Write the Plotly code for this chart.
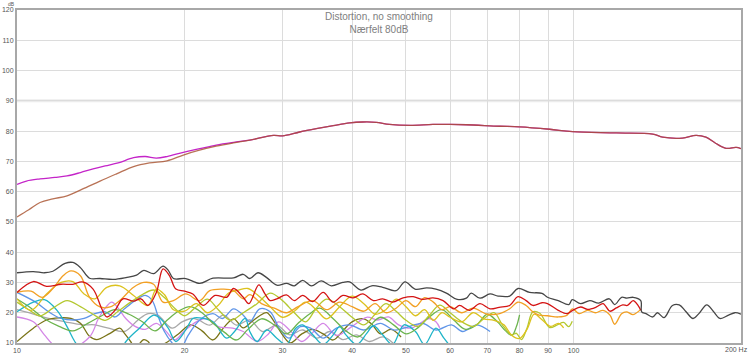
import plotly.graph_objects as go

# ---------------- data ----------------
x_ticks = [10, 20, 30, 40, 50, 60, 70, 80, 90, 100, 200]
x_ticktext = ["10", "20", "30", "40", "50", "60", "70", "80", "90", "100", ""]
y_ticks = [10, 20, 30, 40, 50, 60, 70, 80, 90, 100, 110, 120]

fund_tail_f = [28.9, 30.0, 32.2, 34.5, 37.0, 39.6, 41.8, 44.2, 46.7, 50.9, 55.9, 60.0, 64.2, 73.7, 80.0,
               90.6, 99.7, 119.4, 138.8, 144.6, 157.0, 166.0, 173.0, 180.0, 188.0, 196.0, 200.0]
fund_tail_db = [78.6, 78.4, 79.7, 80.8, 81.8, 82.7, 83.0, 82.9, 82.2, 81.9, 82.2, 82.2, 82.1, 81.6, 81.4,
                80.6, 79.8, 79.4, 79.0, 78.0, 77.7, 78.6, 78.0, 76.0, 74.3, 74.6, 74.2]

fund1_f = [10, 10.4, 11.0, 11.7, 12.3, 13.0, 13.7, 14.4, 15.2, 16.2, 17.0, 17.8, 18.6, 19.9, 21.2, 22.8, 24.5, 26.2]
fund1_db = [62.4, 63.5, 64.2, 64.7, 65.2, 66.3, 67.5, 68.5, 69.5, 71.2, 71.6, 71.1, 71.6, 73.0, 74.1, 75.4, 76.3, 77.0]

fund2_f = [10, 10.5, 11.0, 11.6, 12.3, 13.1, 14.1, 15.1, 16.2, 17.3, 18.6, 19.9, 21.2, 22.8, 24.5, 26.2]
fund2_db = [51.6, 54.0, 56.4, 57.6, 58.6, 60.8, 63.5, 65.9, 68.3, 69.5, 70.2, 72.1, 73.6, 75.0, 76.1, 77.0]

thd_f = [10, 10.7, 11.2, 11.6, 12.2, 12.6, 13.0, 13.5, 14.1, 14.9, 15.7, 16.4, 16.9, 17.6, 18.3, 18.7, 19.1,
         20.1, 21.3, 22.5, 24.5, 25.5, 26.2, 27.1, 28.1, 29.3, 30.5, 31.5, 32.6, 33.8, 35.2, 36.7, 38.5,
         39.6, 41.5, 43.4, 45.4, 48.0, 49.8, 51.9, 54.5, 56.6, 59.1, 61.8, 64.2, 65.5, 67.9, 70.8, 73.2,
         76.8, 79.5, 83.4, 87.8, 89.8, 93.9, 98.1, 99.5, 103, 107, 111, 116, 118.6, 122, 124.7, 128,
         132.1, 132.6, 135, 138.8, 141.5, 145.5, 150.6, 154.9, 159, 164, 168, 173.6, 178.3, 183.4, 190, 195, 200]
thd_db = [33.2, 33.6, 33.2, 33.7, 36.3, 36.6, 34.9, 31.4, 31.3, 31.0, 31.6, 32.4, 34.0, 32.9, 35.4, 34.0, 31.3,
          31.3, 29.7, 31.4, 31.5, 32.7, 31.3, 33.2, 31.6, 29.1, 29.7, 28.9, 30.7, 28.9, 30.5, 28.9, 30.0,
          30.2, 27.5, 28.9, 28.4, 27.3, 30.2, 27.8, 28.2, 27.8, 26.5, 24.4, 24.8, 26.5, 24.8, 26.2, 25.5,
          25.5, 28.0, 26.7, 26.4, 25.1, 24.0, 22.7, 24.3, 23.0, 24.0, 23.2, 24.6, 22.7, 25.1, 24.8, 25.1,
          24.0, 20.3, 19.7, 18.6, 20.0, 18.4, 22.4, 22.6, 20.5, 18.1, 19.7, 22.6, 20.5, 18.1, 19.2, 20.0, 19.5]

h2_f = [10, 10.7, 11.3, 12.0, 12.6, 13.1, 13.7, 14.2, 14.5, 15.0, 15.5, 16.2, 16.7, 17.2, 17.8, 18.3, 18.8,
        19.3, 20.0, 20.7, 21.6, 22.7, 23.8, 24.5, 25.5, 26.1, 27.2, 27.9, 28.5, 29.3, 30.5, 31.5, 32.6, 34.0,
        35.5, 37.0, 38.5, 40.2, 41.8, 43.7, 45.4, 47.3, 49.4, 51.5, 53.6, 55.9, 58.3, 60.9, 62.4, 65.0,
        67.9, 70.8, 73.5, 76.8, 79.5, 82.2, 84.5, 87.8, 89.8, 93.9, 97.4, 99.7, 103, 106, 110, 113, 116.3,
        119.4, 122.6, 125, 128, 130.6, 132.1]
h2_db = [26.7, 30.3, 28.7, 29.4, 29.4, 30.2, 27.8, 21.3, 18.6, 20.8, 24.6, 23.8, 24.6, 22.4, 26.7, 34.5, 32.2,
         27.8, 27.1, 26.2, 22.4, 25.7, 25.1, 28.0, 25.1, 23.0, 29.2, 26.2, 24.0, 24.6, 25.9, 24.0, 25.7, 23.7,
         26.7, 23.5, 25.7, 24.9, 26.2, 24.0, 24.6, 23.5, 24.9, 25.3, 24.4, 24.9, 24.0, 21.3, 22.4, 20.8,
         23.0, 21.3, 21.8, 22.4, 25.3, 24.0, 22.4, 23.3, 23.0, 20.8, 19.7, 20.8, 21.9, 21.1, 21.9, 23.0, 20.5,
         21.6, 22.6, 22.4, 24.0, 22.4, 20.8]

h3_f = [10, 10.6, 11.1, 11.6, 12.1, 12.5, 13.0, 13.5, 14.1, 14.7, 15.3, 16.2, 16.9, 17.6, 18.3, 19.1, 20.1,
        21.3, 22.2, 23.5, 24.5, 25.5, 26.2, 27.5, 29.0, 30.5, 32.0, 34.0, 36.0, 38.0, 40.0, 42.0, 44.0, 46.0,
        48.0, 50.0, 52.0, 54.0, 56.0, 58.0, 60.0, 63.0, 66.0, 70.0, 73.7, 76.8, 79.5, 82.2, 84.5, 86.7, 89.8,
        93.9, 97.4, 99.5, 102.4, 106, 109.5, 113, 116.3, 118.6, 122, 124.5, 128, 132.1]
h3_db = [26.7, 27.1, 25.1, 28.0, 32.2, 33.8, 32.2, 25.1, 21.9, 21.9, 24.0, 28.4, 30.0, 29.4, 23.5, 24.0, 26.2,
         24.0, 27.3, 27.8, 27.3, 24.6, 26.0, 23.0, 21.5, 20.0, 22.0, 24.0, 21.0, 23.5, 22.0, 20.5, 23.0, 20.0,
         21.5, 24.0, 22.0, 25.0, 23.5, 21.0, 22.0, 20.0, 21.5, 19.5, 19.7, 21.3, 23.5, 22.4, 20.3, 19.2, 19.0,
         18.6, 19.2, 21.3, 19.7, 20.8, 20.0, 20.8, 19.2, 16.2, 19.7, 20.3, 19.4, 21.1]

h4_f = [10, 10.6, 11.3, 12.0, 12.6, 13.2, 13.8, 14.5, 15.3, 16.2, 17.2, 17.8, 18.4, 19.1, 20.0, 21.0, 22.0,
        23.0, 24.0, 25.0, 26.0, 27.0, 28.5, 30.0, 31.5, 33.0, 34.5, 36.0, 38.0, 40.0, 42.0, 44.0, 46.0, 48.0,
        50.0, 52.0, 54.0, 56.0, 58.0, 60.0, 63.0, 66.0, 69.0, 72.0, 75.0, 77.5, 80.0, 82.5, 85.0, 88.0, 91.0,
        94.0, 96.0]
h4_db = [24.6, 20.8, 26.2, 30.0, 30.3, 26.2, 24.6, 28.4, 28.9, 25.7, 22.4, 27.8, 26.0, 21.0, 20.5, 23.0, 20.0,
         22.5, 26.5, 27.5, 28.0, 26.0, 22.0, 18.5, 20.5, 23.5, 21.0, 18.0, 22.0, 25.5, 23.0, 19.5, 21.0, 24.5,
         22.0, 19.0, 21.0, 17.5, 20.0, 18.5, 17.0, 20.0, 18.0, 17.5, 16.0, 12.5, 11.5, 14.5, 19.5, 17.5, 15.5,
         16.5, 15.0]

h5_f = [10, 10.5, 11.0, 11.6, 12.3, 13.0, 13.7, 14.4, 15.2, 16.0, 16.8, 17.6, 18.4, 19.2, 20.0, 21.0, 22.0,
        23.0, 24.2, 25.5, 27.0, 28.5, 30.0, 31.5, 33.0, 34.5, 36.0, 38.0, 40.0, 42.0, 44.0, 46.0, 48.0, 50.0,
        52.5, 55.0, 57.5, 60.0, 63.0, 66.0, 69.0, 72.0, 74.5, 77.3, 79.0, 80.6, 82.5, 84.5, 87.0, 90.6, 93.5,
        96.0, 98.0, 99.5]
h5_db = [23.5, 21.0, 19.0, 21.5, 24.0, 22.0, 19.5, 17.5, 20.5, 23.5, 26.0, 27.5, 25.0, 21.5, 19.0, 22.0, 24.5,
         21.0, 17.5, 20.0, 23.0, 26.5, 24.0, 20.0, 17.0, 21.5, 24.5, 22.0, 18.5, 16.0, 19.5, 23.0, 20.5, 17.5,
         15.5, 19.0, 22.5, 20.0, 17.0, 15.5, 18.0, 20.0, 16.0, 12.7, 13.2, 11.1, 14.9, 20.3, 19.8, 15.1, 16.0,
         16.8, 15.4, 17.2]

h6_f = [10, 10.6, 11.2, 11.9, 12.6, 13.4, 14.2, 15.0, 15.9, 16.8, 17.7, 18.6, 19.5, 20.5, 21.5, 22.5, 23.6,
        24.8, 26.0, 27.5, 29.0, 30.5, 32.0, 33.5, 35.0, 37.0, 39.0, 41.0, 43.0, 45.0, 47.5, 50.0, 52.5, 55.0,
        58.0, 61.0, 64.0, 67.0, 70.0, 73.0, 75.5, 77.5, 79.0, 80.0]
h6_db = [24.5, 21.5, 18.0, 15.5, 14.0, 16.5, 19.0, 21.0, 19.5, 17.0, 14.0, 17.5, 20.5, 22.0, 20.0, 16.5, 13.5,
         11.0, 14.5, 18.0, 16.0, 13.0, 16.5, 19.5, 21.5, 18.0, 14.0, 12.0, 15.5, 18.5, 16.0, 13.0, 15.0, 18.5,
         21.0, 17.5, 14.5, 16.0, 19.5, 17.0, 14.0, 12.5, 15.5, 19.3]

h7_f = [10, 10.7, 11.2, 11.8, 12.3, 12.7, 13.3, 14.2, 15.2, 15.7, 16.6, 17.6, 18.1, 18.7, 19.3, 20.1, 20.7,
        21.3, 22.5, 23.8, 24.6, 25.7, 26.2, 27.0, 28.1, 29.3, 30.5, 31.7, 32.6, 34.0, 35.5, 37.0, 38.0, 39.0,
        40.8, 42.5, 43.7, 45.4, 47.3, 49.6, 52.0, 54.0, 56.6, 58.5, 60.0]
h7_db = [20.3, 23.5, 24.3, 20.8, 15.4, 10.5, 6.0, 4.0, 6.0, 10.5, 14.9, 19.2, 18.1, 14.9, 10.5, 14.3, 18.1,
         18.3, 17.0, 11.6, 13.8, 18.1, 13.8, 10.5, 14.3, 11.6, 9.5, 14.9, 16.0, 12.7, 9.5, 12.7, 15.4, 12.7,
         9.5, 13.2, 15.7, 12.7, 9.5, 16.0, 13.8, 9.5, 14.9, 11.6, 9.0]

h8_f = [10, 10.8, 11.4, 12.0, 12.7, 13.2, 13.8, 14.4, 15.0, 15.6, 16.3, 17.0, 17.5, 17.9, 18.4, 19.0, 19.6,
        20.3, 21.3, 22.5, 23.4, 24.5, 25.5, 26.2, 27.3, 28.5, 29.6, 30.8, 32.3, 33.7, 35.5, 37.5, 39.6, 42.0,
        45.0, 47.5, 49.6, 53.6, 56.6, 60.4, 63.2, 67.0, 70.8]
h8_db = [26.7, 23.5, 20.3, 18.1, 17.6, 18.1, 19.7, 20.3, 18.6, 21.3, 24.0, 25.7, 24.0, 19.2, 13.8, 10.0, 7.5,
         12.5, 17.6, 19.7, 18.1, 21.3, 19.2, 17.0, 21.3, 20.3, 14.9, 11.6, 15.4, 14.9, 11.6, 14.9, 16.0, 14.3,
         16.5, 14.3, 14.9, 16.5, 14.3, 16.0, 13.8, 16.0, 13.8]

h9_f = [10, 10.7, 11.2, 11.6, 12.1, 13.5, 14.0, 14.4, 14.8, 15.2, 15.7, 16.3, 17.0, 17.8, 18.5, 19.2, 20.0,
        21.0, 22.0, 23.0, 24.4, 25.5, 27.0, 28.3, 29.5, 31.0, 32.5, 34.0, 35.5, 37.5, 40.0, 42.5, 44.5, 46.5,
        48.5, 51.0, 53.0, 55.0, 56.6, 57.5]
h9_db = [18.6, 17.0, 12.7, 9.5, 7.0, 12.0, 18.0, 21.5, 23.5, 21.5, 18.0, 15.5, 14.5, 16.5, 14.0, 11.0, 14.0,
         17.0, 18.1, 15.4, 14.9, 13.8, 10.5, 13.0, 17.0, 14.0, 10.5, 13.5, 16.5, 12.5, 15.5, 18.5, 17.6, 18.6,
         16.0, 14.9, 16.5, 18.1, 17.0, 15.0]

h10_f = [10, 10.5, 11.4, 12.2, 13.1, 13.8, 14.6, 15.6, 16.5, 17.2, 17.9, 19.0, 19.8, 20.6, 21.2, 22.2, 23.5,
         24.8, 26.2, 27.6, 29.3, 30.9, 32.6, 34.6, 36.5, 38.5, 40.7, 43.0, 45.5, 48.0]
h10_db = [21.0, 20.0, 18.1, 17.0, 16.0, 16.0, 14.9, 13.8, 17.6, 19.7, 19.2, 14.9, 17.0, 18.1, 17.6, 15.9, 19.2,
          15.9, 17.6, 13.8, 15.9, 12.7, 14.3, 11.6, 13.8, 11.1, 12.7, 10.5, 12.0, 9.0]

noise_f = [10, 10.7, 11.3, 11.9, 12.5, 13.0, 13.5, 13.9, 14.7, 15.3, 15.6, 16.0, 16.3, 16.9, 17.2, 17.6, 18.5,
           19.5, 20.5, 21.5, 22.5, 23.5, 24.5, 25.5, 26.4, 27.3, 28.1, 29.0, 30.0, 31.0, 32.5, 34.0, 35.5, 37.0,
           38.5, 40.0, 42.0, 43.5, 45.0, 47.0, 49.0]
noise_db = [10.5, 14.9, 17.6, 18.3, 18.1, 16.5, 12.2, 11.1, 13.2, 14.9, 13.2, 10.5, 8.5, 11.1, 10.5, 8.0, 10.0,
            13.0, 16.0, 14.0, 11.0, 15.0, 18.0, 15.0, 17.0, 19.0, 20.0, 17.0, 12.7, 10.0, 13.0, 14.5, 13.0, 11.0,
            14.0, 17.0, 18.0, 16.0, 13.0, 14.5, 12.0]

# ---------------- figure ----------------
fig = go.Figure()

def add(fx, fy, color, width=1.3, opacity=1.0):
    fig.add_trace(go.Scatter(x=fx, y=fy, mode="lines", opacity=opacity,
                             line=dict(color=color, width=width, shape="spline", smoothing=1.0),
                             hoverinfo="skip", showlegend=False))

add(h10_f, h10_db, "#a8a8a8")
add(noise_f, noise_db, "#7a7418")
add(h9_f, h9_db, "#d486e6")
add(h8_f, h8_db, "#5f95e8")
add(h7_f, h7_db, "#1eb4c8")
add(h6_f, h6_db, "#6cb44e")
add(h5_f, h5_db, "#b4c830")
add(h4_f, h4_db, "#dcc21e")
add(h3_f, h3_db, "#f2a024")
add(h2_f, h2_db, "#d41414")
add(thd_f, thd_db, "#464646")
add(fund1_f + fund_tail_f, fund1_db + fund_tail_db, "#c424c8")
add(fund2_f + fund_tail_f, fund2_db + fund_tail_db, "#a8502c", opacity=0.8)

fig.update_layout(
    width=750, height=354,
    margin=dict(l=17, r=9, t=10, b=11, autoexpand=False),
    paper_bgcolor="white", plot_bgcolor="white",
    font=dict(family="Liberation Sans, Arial, sans-serif", size=7, color="#555555"),
    showlegend=False,
)
fig.update_xaxes(type="log", range=[1, 2.30103], tickvals=x_ticks, ticktext=x_ticktext,
                 showgrid=True, gridcolor="#dcdcdc", gridwidth=1, automargin=False,
                 showline=True, linecolor="#a8a8a8", linewidth=2, mirror=True,
                 ticks="", ticklabelstandoff=0,
                 tickfont=dict(size=7, color="#555555"), zeroline=False)
fig.update_yaxes(range=[10, 120], tickvals=y_ticks,
                 showgrid=True, gridcolor="#dcdcdc", gridwidth=1, automargin=False,
                 showline=True, linecolor="#a8a8a8", linewidth=2, mirror=True,
                 ticks="", tickfont=dict(size=7, color="#555555"), zeroline=False)

fig.add_hline(y=90, line=dict(color="#ececec", width=3), layer="below")

fig.add_annotation(text="Distortion, no smoothing<br>Nærfelt 80dB", xref="paper", yref="paper",
                   x=0.5, y=1, yanchor="top", yshift=1, showarrow=False,
                   font=dict(family="Liberation Sans, Arial, sans-serif", size=10, color="#808080"))
fig.add_annotation(text="dB", xref="paper", yref="paper", x=0, y=1, xanchor="right", yanchor="top",
                   xshift=-1, yshift=10, borderpad=0, showarrow=False, font=dict(size=5, color="#555555"))
fig.add_annotation(text="200 Hz", xref="paper", yref="paper", x=1, y=0, xanchor="right", yanchor="top",
                   xshift=9, yshift=-1, showarrow=False, font=dict(size=7, color="#555555"))

fig.write_html("out.html")
